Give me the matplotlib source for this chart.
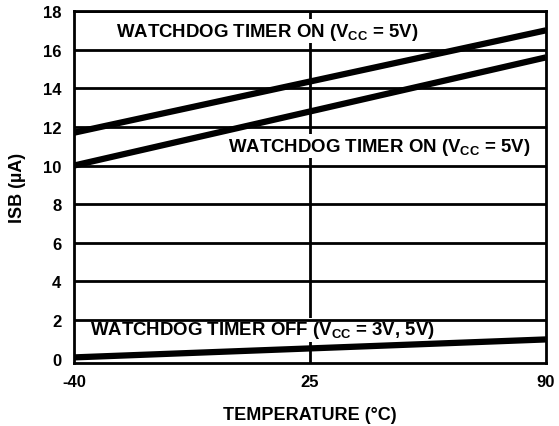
import numpy as np
import matplotlib.pyplot as plt

plt.rcParams['font.family'] = ['Liberation Sans', 'DejaVu Sans']
plt.rcParams['font.weight'] = 'bold'
plt.rcParams['axes.unicode_minus'] = False
plt.rcParams['mathtext.fontset'] = 'custom'
plt.rcParams['mathtext.rm'] = 'Liberation Sans:bold'
plt.rcParams['mathtext.it'] = 'Liberation Sans:bold'
plt.rcParams['mathtext.bf'] = 'Liberation Sans:bold'

temp = [-40, 90]
wdt_on_upper = [11.7, 17.0]
wdt_on_lower = [10.0, 15.6]
wdt_off = [0.07, 1.0]

x_ticks = [-40, 25, 90]
y_ticks = list(range(0, 19, 2))

fig = plt.figure(figsize=(5.59, 4.27), dpi=100)
ax = fig.add_axes([74 / 559, 1 - 364 / 427, 472 / 559, 352 / 427])

# vertical grid sits under the label boxes, horizontal grid above them
ax.axvline(25, color='black', lw=2, zorder=1)
for y in y_ticks[1:]:
    ax.axhline(y, color='black', lw=2, zorder=2.5)

for ys in (wdt_on_upper, wdt_on_lower, wdt_off):
    ax.plot(temp, ys, color='black', lw=4.5, solid_capstyle='butt', zorder=3)

ax.set_xlim(-40, 90)
ax.set_ylim(-0.22, 17.8)
ax.set_xticks(x_ticks)
ax.set_yticks(y_ticks)
ax.tick_params(length=0, labelsize=12)
ax.tick_params(axis='y', pad=9)
ax.tick_params(axis='x', pad=8)
for s in ax.spines.values():
    s.set_linewidth(2)

ax.set_xlabel('TEMPERATURE (°C)', fontsize=13, fontweight='bold', labelpad=12)
ax.set_ylabel('ISB (µA)', fontsize=13, fontweight='bold', labelpad=12)

box = dict(facecolor='white', edgecolor='none', pad=1.0)
kw = dict(fontsize=13.4, fontweight='bold', va='center', ha='left', zorder=2, bbox=box)
ax.text(-28.4, 16.95, r'WATCHDOG TIMER ON ($V_{CC}$ = 5V)', **kw)
ax.text(2.4, 11.0, r'WATCHDOG TIMER ON ($V_{CC}$ = 5V)', **kw)
ax.text(-35.6, 1.5, r'WATCHDOG TIMER OFF ($V_{CC}$ = 3V, 5V)', **kw)

fig.savefig('out.png', dpi=100)
